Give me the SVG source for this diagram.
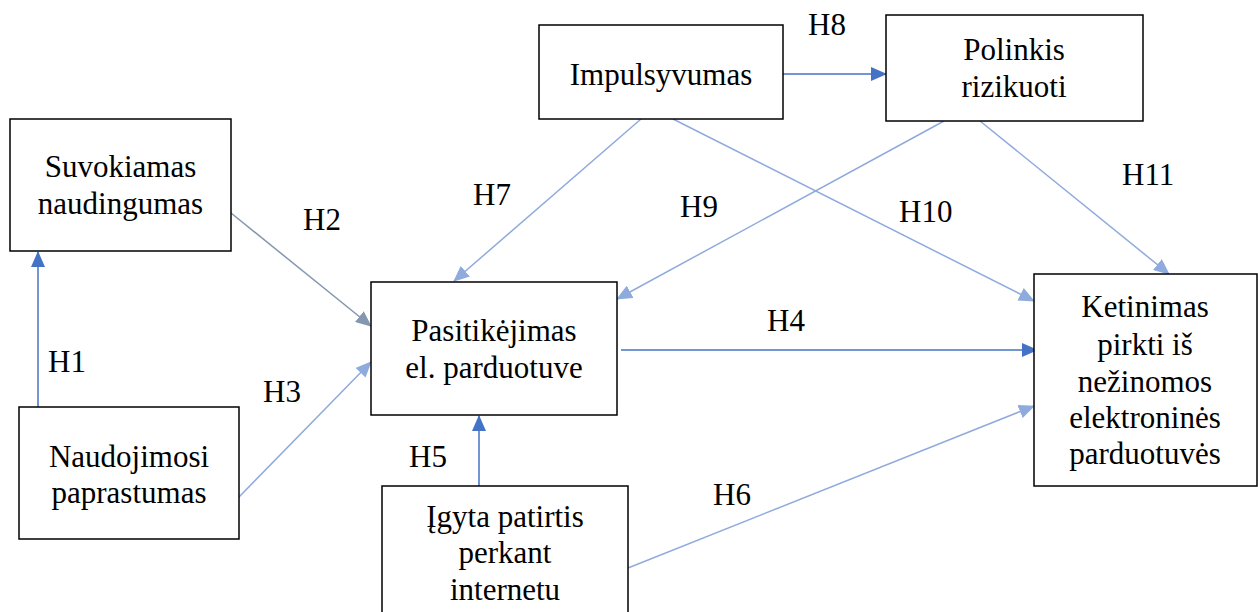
<svg xmlns="http://www.w3.org/2000/svg" width="1258" height="612" viewBox="0 0 1258 612">
  <style>
    .box { fill: #ffffff; stroke: #000000; stroke-width: 1.5; }
    .t { font-family: 'Liberation Serif', 'DejaVu Serif', serif; font-size: 31px; fill: #000000; text-anchor: middle; }
    .lbl { font-family: 'Liberation Serif', 'DejaVu Serif', serif; font-size: 31px; fill: #000000; }
    .dark { stroke: #4472C4; stroke-width: 1.5; fill: none; marker-end: url(#ahDark); }
    .light { stroke: #8FAADC; stroke-width: 1.5; fill: none; marker-end: url(#ahLight); }
    .slate { stroke: #8497B0; stroke-width: 1.5; fill: none; marker-end: url(#ahSlate); }
  </style>
  <defs>
    <marker id="ahDark" markerUnits="userSpaceOnUse" markerWidth="16" markerHeight="14" refX="15" refY="7" orient="auto">
      <path d="M0,0 L16,7 L0,14 z" fill="#4472C4"/>
    </marker>
    <marker id="ahLight" markerUnits="userSpaceOnUse" markerWidth="16" markerHeight="14" refX="15" refY="7" orient="auto">
      <path d="M0,0 L16,7 L0,14 z" fill="#8FAADC"/>
    </marker>
    <marker id="ahSlate" markerUnits="userSpaceOnUse" markerWidth="16" markerHeight="14" refX="15" refY="7" orient="auto">
      <path d="M0,0 L16,7 L0,14 z" fill="#8497B0"/>
    </marker>
  </defs>

  <rect width="1258" height="612" fill="#ffffff"/>

  <g id="connectors">
    <line class="dark" x1="38" y1="407" x2="38" y2="252"/>
    <line class="slate" x1="231" y1="213" x2="371" y2="326"/>
    <line class="light" x1="239" y1="497" x2="371" y2="362"/>
    <line class="light" x1="641" y1="119" x2="454" y2="281"/>
    <line class="light" x1="944" y1="121" x2="617" y2="299"/>
    <line class="light" x1="673" y1="119" x2="1034" y2="301"/>
    <line class="light" x1="980" y1="121" x2="1169" y2="274"/>
    <line class="dark" x1="621" y1="350" x2="1037" y2="350"/>
    <line class="dark" x1="479" y1="486" x2="479" y2="416"/>
    <line class="light" x1="628" y1="568" x2="1034" y2="406"/>
    <line class="dark" x1="783" y1="74" x2="886" y2="74"/>
  </g>

  <g id="labels">
    <text class="lbl" x="808" y="35">H8</text>
    <text class="lbl" x="473" y="205">H7</text>
    <text class="lbl" x="680" y="217">H9</text>
    <text class="lbl" x="899" y="222">H10</text>
    <text class="lbl" x="1122" y="185">H11</text>
    <text class="lbl" x="303" y="230">H2</text>
    <text class="lbl" x="767" y="331">H4</text>
    <text class="lbl" x="48" y="372">H1</text>
    <text class="lbl" x="263" y="402">H3</text>
    <text class="lbl" x="409" y="467">H5</text>
    <text class="lbl" x="713" y="505">H6</text>
  </g>

  <g id="suvokiamas">
    <rect class="box" x="10" y="119" width="221" height="132"/>
    <text class="t" x="120.5" y="177">Suvokiamas</text>
    <text class="t" x="120.5" y="214">naudingumas</text>
  </g>

  <g id="naudojimosi">
    <rect class="box" x="19" y="407" width="220" height="132"/>
    <text class="t" x="129" y="467">Naudojimosi</text>
    <text class="t" x="129" y="503">paprastumas</text>
  </g>

  <g id="pasitikejimas">
    <rect class="box" x="371" y="282" width="246" height="133"/>
    <text class="t" x="494" y="341">Pasitikėjimas</text>
    <text class="t" x="494" y="378">el. parduotuve</text>
  </g>

  <g id="igyta">
    <rect class="box" x="382" y="486" width="246" height="140"/>
    <text class="t" x="505" y="527">Įgyta patirtis</text>
    <text class="t" x="505" y="563">perkant</text>
    <text class="t" x="505" y="600">internetu</text>
  </g>

  <g id="impulsyvumas">
    <rect class="box" x="539" y="25" width="244" height="94"/>
    <text class="t" x="661" y="85">Impulsyvumas</text>
  </g>

  <g id="polinkis">
    <rect class="box" x="886" y="15" width="257" height="106"/>
    <text class="t" x="1014" y="60">Polinkis</text>
    <text class="t" x="1014" y="97">rizikuoti</text>
  </g>

  <g id="ketinimas">
    <rect class="box" x="1034" y="274" width="223" height="212"/>
    <text class="t" x="1145" y="317">Ketinimas</text>
    <text class="t" x="1145" y="355">pirkti iš</text>
    <text class="t" x="1145" y="392">nežinomos</text>
    <text class="t" x="1145" y="428">elektroninės</text>
    <text class="t" x="1145" y="464">parduotuvės</text>
  </g>
</svg>
